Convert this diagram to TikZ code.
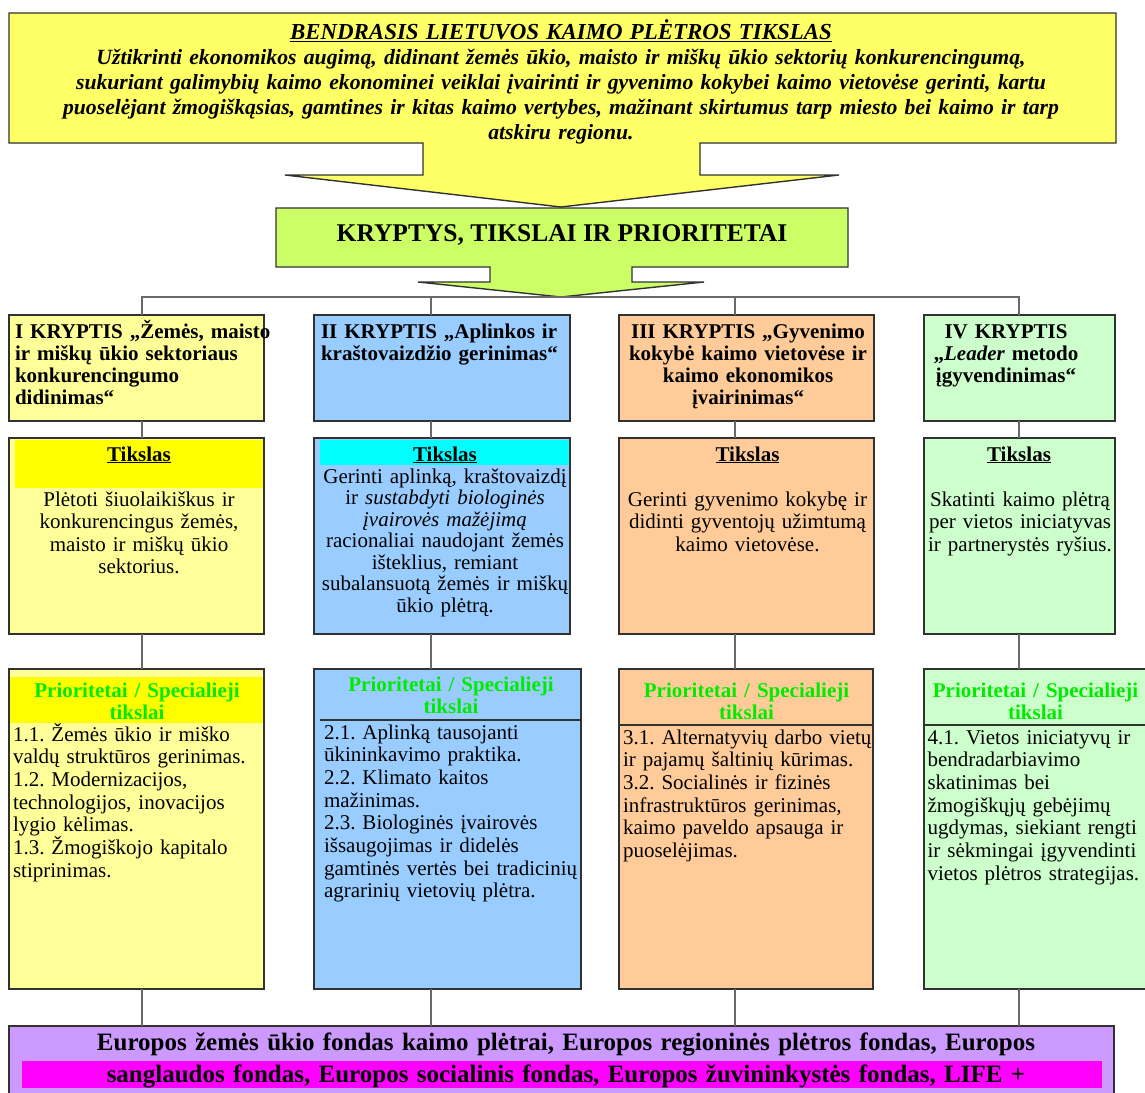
\documentclass[tikz,border=0pt]{standalone}
\usepackage{fontspec}
\setmainfont{Liberation Serif}

\definecolor{goalyellow}{RGB}{255,255,102}
\definecolor{limegreen}{RGB}{204,255,102}
\definecolor{paleyellow}{RGB}{255,255,153}
\definecolor{brightyellow}{RGB}{255,255,0}
\definecolor{skyblue}{RGB}{153,204,255}
\definecolor{aqua}{RGB}{0,255,255}
\definecolor{peach}{RGB}{255,204,153}
\definecolor{mint}{RGB}{204,255,204}
\definecolor{lilac}{RGB}{204,153,255}
\definecolor{fuchsia}{RGB}{255,0,255}
\definecolor{prigreen}{RGB}{0,235,0}
\definecolor{edgegray}{RGB}{50,50,50}
\definecolor{wiregray}{RGB}{105,105,105}

% fixed line pitch, whatever the accents on a line; single space after periods
\AtBeginDocument{\lineskiplimit=-100pt \lineskip=0pt \frenchspacing}
% first-line struts: the top of a text block lies this far above its first baseline
\newcommand\capstrut{\rule{0pt}{19pt}}
\newcommand\bigstrut{\rule{0pt}{24pt}}

\begin{document}
\begin{tikzpicture}[x=1pt, y=-1pt,
  box/.style={draw=edgegray, line width=1.6pt, anchor=north west, inner sep=0pt, outer sep=0pt},
  wire/.style={draw=wiregray, line width=1.1pt},
  rule/.style={draw=edgegray, line width=1.6pt},
  txt/.style={inner sep=0pt, outer sep=0pt},
  ctr/.style={txt, anchor=north, align=center, text width=320pt},
  lft/.style={txt, anchor=north west, align=left, text width=320pt},
  head/.style={font=\fontsize{21}{22}\selectfont\bfseries},
  aim/.style={font=\fontsize{21}{22.5}\selectfont},
  prio/.style={font=\fontsize{21}{22}\selectfont\bfseries, text=prigreen},
  item/.style={font=\fontsize{21}{22.7}\selectfont},
]
\clip (0,0) rectangle (1145,1092);

% ---- overall goal: callout arrow ----
\draw[draw=edgegray, line width=1.4pt, fill=goalyellow]
  (9,13) -- (1116,13) -- (1116,143) -- (700,143) -- (700,175) -- (839,175)
  -- (561,207) -- (285,175) -- (423,175) -- (423,143) -- (9,143) -- cycle;
\node[txt, anchor=north, align=center, text width=1100pt,
      font=\fontsize{21.7}{25}\selectfont\bfseries\itshape] (goal) at (561,15)
  {\bigstrut{\fontsize{22.9}{25}\selectfont\underline{BENDRASIS LIETUVOS KAIMO PLĖTROS TIKSLAS}}\\
   Užtikrinti ekonomikos augimą, didinant žemės ūkio, maisto ir miškų ūkio sektorių konkurencingumą,\\
   sukuriant galimybių kaimo ekonominei veiklai įvairinti ir gyvenimo kokybei kaimo vietovėse gerinti, kartu\\
   puoselėjant žmogiškąsias, gamtines ir kitas kaimo vertybes, mažinant skirtumus tarp miesto bei kaimo ir tarp\\
   atskiru regionu.};

% ---- directions, goals and priorities: callout arrow ----
\draw[draw=edgegray, line width=1.4pt, fill=limegreen]
  (276,208) -- (848,208) -- (848,267) -- (632,267) -- (632,282) -- (704,282)
  -- (561,297) -- (418,282) -- (490,282) -- (490,267) -- (276,267) -- cycle;
\node[txt, anchor=base, font=\fontsize{25.5}{28}\selectfont\bfseries] (kryptys) at (562,241)
  {KRYPTYS, TIKSLAI IR PRIORITETAI};
\coordinate (bus) at (561,297);

% connector columns
\coordinate (k1) at (142,0);
\coordinate (k2) at (431,0);
\coordinate (k3) at (735,0);
\coordinate (k4) at (1019,0);

% ---- direction boxes ----
\node[box, fill=paleyellow, minimum width=255pt, minimum height=106pt] (h1) at (9,315) {};
\node[box, fill=skyblue,    minimum width=256pt, minimum height=106pt] (h2) at (314,315) {};
\node[box, fill=peach,      minimum width=255pt, minimum height=106pt] (h3) at (619,315) {};
\node[box, fill=mint,       minimum width=191pt, minimum height=106pt] (h4) at (924,315) {};

% ---- goal boxes ----
\node[box, fill=paleyellow, minimum width=255pt, minimum height=196pt] (t1) at (9,438) {};
\node[box, fill=skyblue,    minimum width=256pt, minimum height=196pt] (t2) at (314,438) {};
\node[box, fill=peach,      minimum width=255pt, minimum height=196pt] (t3) at (619,438) {};
\node[box, fill=mint,       minimum width=191pt, minimum height=196pt] (t4) at (924,438) {};
\fill[brightyellow] (15,440) rectangle (263,488);
\fill[aqua] (320,440) rectangle (569,465);

% ---- priority boxes ----
\node[box, fill=paleyellow, minimum width=255pt, minimum height=320pt] (p1) at (9,669) {};
\node[box, fill=skyblue,    minimum width=267pt, minimum height=320pt] (p2) at (314,669) {};
\node[box, fill=peach,      minimum width=254pt, minimum height=320pt] (p3) at (619,669) {};
\node[box, fill=mint,       minimum width=240pt, minimum height=320pt] (p4) at (924,669) {};
\fill[brightyellow] (10,677) rectangle (263,723);
\draw[rule] (320,720) -- (p2.east |- 0,720);
\draw[rule] (p3.west |- 0,725) -- (p3.east |- 0,725);
\draw[rule] (p4.west |- 0,725) -- (p4.east |- 0,725);

% ---- funds box ----
\node[box, fill=lilac, minimum width=1105pt, minimum height=90pt] (fund) at (9,1026) {};
\fill[fuchsia] (22,1061) rectangle (1102,1088);

% ---- connectors ----
\draw[wire] (h1.north -| k1) |- (bus) -| (h4.north -| k4);
\draw[wire] (h2.north -| k2) -- (bus -| k2);
\draw[wire] (h3.north -| k3) -- (bus -| k3);
\foreach \c in {1,2,3,4}{
  \draw[wire] (h\c.south -| k\c) -- (t\c.north -| k\c);
  \draw[wire] (t\c.south -| k\c) -- (p\c.north -| k\c);
  \draw[wire] (p\c.south -| k\c) -- (fund.north -| k\c);
}

% ---- direction titles ----
\node[lft, head] (h1t) at (15,319)
  {\capstrut I KRYPTIS „Žemės, maisto\\ir miškų ūkio sektoriaus\\konkurencingumo\\didinimas“};
\node[lft, head] (h2t) at (321,319)
  {\capstrut II KRYPTIS „Aplinkos ir\\kraštovaizdžio gerinimas“};
\node[ctr, head] (h3t) at (748,319)
  {\capstrut III KRYPTIS „Gyvenimo\\kokybė kaimo vietovėse ir\\kaimo ekonomikos\\įvairinimas“};
\node[ctr, head] (h4t) at (1006,319)
  {\capstrut IV KRYPTIS\\„\textit{Leader} metodo\\įgyvendinimas“};

% ---- goals ----
\node[txt, anchor=base, head] (t1h) at (139,461) {\underline{Tikslas}};
\node[txt, anchor=base, head] (t2h) at (445,461) {\underline{Tikslas}};
\node[txt, anchor=base, head] (t3h) at (747.5,461) {\underline{Tikslas}};
\node[txt, anchor=base, head] (t4h) at (1019,461) {\underline{Tikslas}};

\node[ctr, aim] (t1t) at (139,487)
  {\capstrut Plėtoti šiuolaikiškus ir\\konkurencingus žemės,\\maisto ir miškų ūkio\\sektorius.};
\node[ctr, font=\fontsize{21}{21.5}\selectfont] (t2t) at (445,464)
  {\capstrut Gerinti aplinką, kraštovaizdį\\ir \textit{sustabdyti biologinės}\\\textit{įvairovės mažėjimą}\\racionaliai naudojant žemės\\išteklius, remiant\\subalansuotą žemės ir miškų\\ūkio plėtrą.};
\node[ctr, aim] (t3t) at (747.5,487)
  {\capstrut Gerinti gyvenimo kokybę ir\\didinti gyventojų užimtumą\\kaimo vietovėse.};
\node[ctr, aim] (t4t) at (1020,487)
  {\capstrut Skatinti kaimo plėtrą\\per vietos iniciatyvas\\ir partnerystės ryšius.};

% ---- priorities ----
\node[ctr, prio] (p1h) at (137,678) {\capstrut Prioritetai / Specialieji\\tikslai};
\node[ctr, prio] (p2h) at (451,672) {\capstrut Prioritetai / Specialieji\\tikslai};
\node[ctr, prio] (p3h) at (746.5,678) {\capstrut Prioritetai / Specialieji\\tikslai};
\node[ctr, prio] (p4h) at (1035.5,678) {\capstrut Prioritetai / Specialieji\\tikslai};

\node[lft, item] (p1t) at (13,722)
  {\capstrut 1.1. Žemės ūkio ir miško\\valdų struktūros gerinimas.\\1.2. Modernizacijos,\\technologijos, inovacijos\\lygio kėlimas.\\1.3. Žmogiškojo kapitalo\\stiprinimas.};
\node[lft, item] (p2t) at (324,720)
  {\capstrut 2.1. Aplinką tausojanti\\ūkininkavimo praktika.\\2.2. Klimato kaitos\\mažinimas.\\2.3. Biologinės įvairovės\\išsaugojimas ir didelės\\gamtinės vertės bei tradicinių\\agrarinių vietovių plėtra.};
\node[lft, item] (p3t) at (623,725)
  {\capstrut 3.1. Alternatyvių darbo vietų\\ir pajamų šaltinių kūrimas.\\3.2. Socialinės ir fizinės\\infrastruktūros gerinimas,\\kaimo paveldo apsauga ir\\puoselėjimas.};
\node[lft, item] (p4t) at (927.5,725)
  {\capstrut 4.1. Vietos iniciatyvų ir\\bendradarbiavimo\\skatinimas bei\\žmogiškųjų gebėjimų\\ugdymas, siekiant rengti\\ir sėkmingai įgyvendinti\\vietos plėtros strategijas.};

% ---- funds ----
\node[txt, anchor=north, align=center, text width=1100pt,
      font=\fontsize{25}{32}\selectfont\bfseries] (fundt) at (566,1026)
  {\bigstrut Europos žemės ūkio fondas kaimo plėtrai, Europos regioninės plėtros fondas, Europos\\
   sanglaudos fondas, Europos socialinis fondas, Europos žuvininkystės fondas, LIFE +};
\end{tikzpicture}
\end{document}
